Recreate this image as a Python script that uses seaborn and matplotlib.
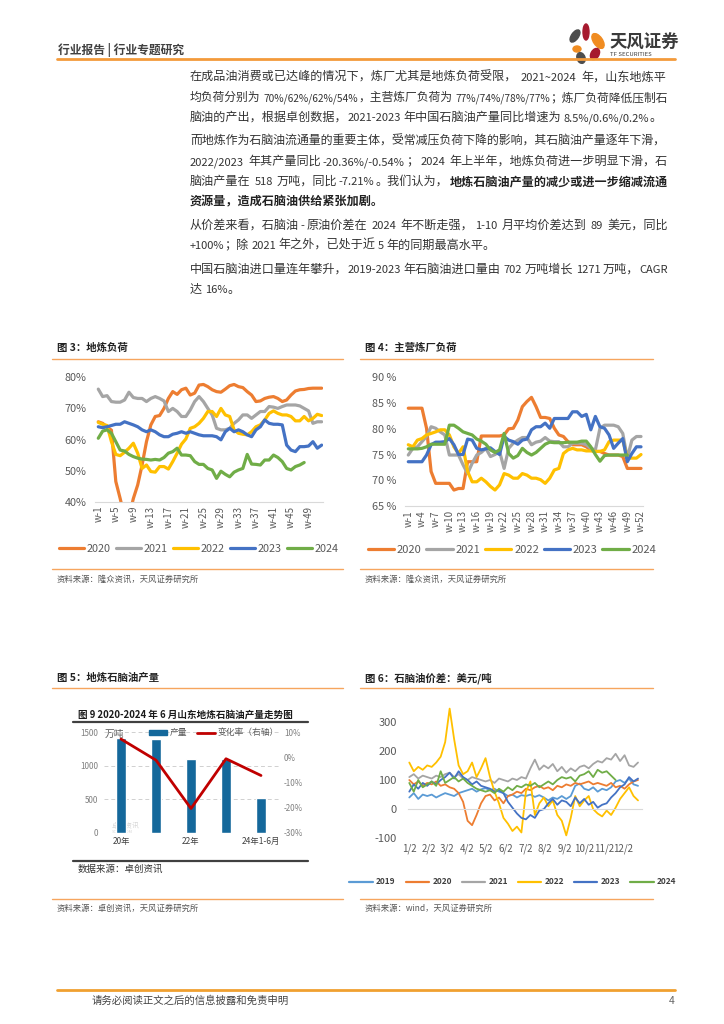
import re
import numpy as np
import pandas as pd
import seaborn as sns
import matplotlib.pyplot as plt
from matplotlib.patches import Ellipse, Patch
from matplotlib.lines import Line2D
from matplotlib.font_manager import FontProperties

sns.set_style("white")
plt.rcParams["font.family"] = ["Noto Sans CJK SC", "DejaVu Sans"]
plt.rcParams["axes.unicode_minus"] = False
plt.rcParams["lines.solid_joinstyle"] = "round"
plt.rcParams["lines.solid_capstyle"] = "round"

# ---------------- data ----------------
years = ["2020", "2021", "2022", "2023", "2024"]

# 图3 地炼负荷 (%)，按周
local_2020 = [65.7, 65.2, 64.0, 63.0, 46.5, 41.0, 35.0, 35.0, 41.0, 45.4,
              51.8, 59.3, 64.7, 67.4, 67.7, 70.0, 73.2, 75.4, 74.5, 76.0,
              76.5, 74.3, 74.9, 77.5, 77.7, 77.0, 76.0, 75.4, 75.2, 76.2,
              77.3, 77.7, 77.0, 76.7, 75.4, 74.3, 72.2, 72.4, 73.2, 73.6,
              73.8, 73.2, 72.2, 72.7, 74.3, 75.6, 76.0, 76.1, 76.4, 76.5,
              76.5, 76.5]
local_2021 = [76.2, 73.8, 74.1, 72.2, 72.0, 72.0, 72.7, 75.2, 73.5, 73.2,
              73.2, 72.2, 73.2, 73.8, 73.2, 72.4, 69.0, 70.0, 69.0, 67.4,
              67.4, 69.5, 72.2, 73.8, 72.2, 70.0, 67.9, 63.6, 63.1, 63.1,
              63.6, 65.2, 66.3, 67.9, 67.9, 66.8, 67.9, 69.0, 69.0, 70.6,
              70.4, 70.0, 70.6, 71.1, 71.1, 71.1, 70.8, 70.0, 69.2, 65.2,
              65.7, 65.7]
local_2022 = [65.5, 64.9, 64.5, 59.3, 55.2, 54.8, 55.9, 57.2, 58.8, 55.6,
              50.7, 51.8, 49.7, 49.5, 51.3, 51.3, 50.5, 52.9, 55.6, 58.5,
              60.2, 63.6, 64.1, 65.2, 66.8, 69.0, 69.0, 67.4, 70.0, 67.9,
              67.4, 63.1, 62.0, 61.7, 61.5, 62.5, 64.1, 64.7, 66.3, 68.4,
              69.2, 68.4, 67.9, 67.9, 67.4, 66.0, 66.0, 67.4, 66.0, 66.8,
              68.1, 67.7]
local_2023 = [64.1, 63.8, 64.1, 64.5, 64.9, 64.9, 65.7, 65.2, 64.7, 64.1,
              63.1, 62.5, 63.1, 62.5, 61.5, 60.9, 60.9, 61.7, 62.0, 62.5,
              62.0, 62.5, 62.0, 61.5, 61.2, 61.2, 61.2, 60.9, 59.9, 62.5,
              63.6, 62.5, 63.1, 62.5, 61.5, 60.9, 63.1, 64.1, 66.3, 65.2,
              64.9, 64.9, 64.7, 58.2, 56.6, 56.1, 57.7, 57.7, 57.9, 59.3,
              57.2, 58.2]
local_2024 = [60.4, 62.7, 63.1, 62.0, 59.3, 56.6, 56.3, 55.2, 54.5, 54.0,
              53.7, 53.6, 53.4, 53.6, 53.4, 54.2, 55.6, 56.1, 57.2, 55.0,
              55.0, 54.8, 52.9, 52.0, 52.0, 50.7, 50.2, 47.5, 49.8, 48.8,
              48.0, 49.5, 50.2, 50.7, 55.2, 52.1, 52.0, 51.8, 53.4, 53.4,
              55.0, 54.2, 52.9, 50.7, 50.2, 51.3, 51.8, 52.6]

# 图4 主营炼厂负荷 (%)，按周
main_2020 = [84, 84, 84, 84, 80.1, 71.7, 69.4, 69.4, 69.4, 69.4,
             68.1, 68.4, 68.4, 73.6, 73.6, 73.6, 78.6, 78.6, 78.6, 78.6,
             78.6, 78.8, 80.0, 80.1, 81.7, 84.3, 85.3, 86.1, 84.3, 82.2,
             82.2, 82.0, 80.1, 78.8, 78.5, 77.5, 76.9, 76.9, 76.9, 76.5,
             75.9, 75.6, 75.6, 75.2, 74.9, 74.9, 74.9, 74.6, 72.3, 72.3,
             72.3, 72.3]
main_2021 = [74.9, 76.2, 76.5, 77.5, 78.5, 80.4, 80.1, 79.4, 78.8, 74.9,
             74.9, 74.9, 73.0, 71.3, 73.3, 74.9, 75.4, 76.2, 74.6, 75.0,
             75.6, 72.3, 76.2, 77.2, 77.8, 78.3, 78.3, 76.9, 77.4, 77.6,
             78.3, 77.6, 77.5, 77.5, 76.5, 76.5, 77.2, 77.2, 77.2, 76.9,
             76.2, 75.9, 80.1, 80.7, 80.7, 80.7, 80.4, 79.1, 74.3, 77.8,
             78.5, 78.5]
main_2022 = [76.9, 76.5, 77.8, 78.1, 78.8, 79.1, 79.4, 79.8, 79.8, 78.8,
             76.5, 75.2, 76.5, 71.7, 69.7, 69.7, 70.4, 69.7, 68.8, 68.1,
             69.1, 71.3, 71.0, 70.4, 70.4, 71.3, 71.0, 70.4, 70.4, 70.1,
             69.4, 70.4, 72.0, 72.3, 75.2, 75.9, 76.2, 75.9, 75.9, 75.7,
             75.7, 75.6, 75.6, 75.9, 77.5, 77.8, 77.8, 77.8, 74.3, 74.3,
             74.3, 75.0]
main_2023 = [73.6, 73.6, 73.6, 73.6, 74.9, 76.9, 77.4, 77.4, 77.5, 78.1,
             76.9, 75.0, 75.0, 78.0, 77.8, 76.2, 75.9, 76.1, 76.3, 75.6,
             75.0, 78.5, 77.8, 77.5, 77.0, 77.8, 78.0, 79.8, 80.4, 80.4,
             81.1, 80.1, 82.0, 82.0, 82.0, 82.0, 83.3, 83.3, 82.4, 82.8,
             79.8, 82.4, 80.4, 80.1, 78.8, 76.2, 77.2, 78.1, 73.6, 75.2,
             76.5, 76.5]
main_2024 = [76.1, 76.1, 76.1, 76.2, 76.5, 77.0, 77.0, 77.0, 77.0, 80.7,
             80.7, 80.1, 79.4, 79.1, 78.8, 78.0, 77.6, 77.0, 75.9, 75.4,
             75.9, 79.1, 75.2, 74.3, 74.8, 76.2, 75.4, 74.9, 75.4, 76.2,
             77.0, 77.4, 77.3, 77.3, 77.3, 77.4, 77.4, 77.4, 77.6, 77.6,
             76.5, 75.0, 73.7, 74.8, 74.9, 74.9, 74.9, 74.9, 74.9]

# 图5 山东地炼石脑油产量
prod_cats = ["20年", "21年", "22年", "23年", "24年1-6月"]
prod_labels = ["20年", "", "22年", "", "24年1-6月"]
prod_vals = [1409, 1394, 1104, 1104, 518]
prod_rate = [7.3, -1.1, -20.36, -0.54, -7.21]

# 图6 石脑油价差 (美元/吨)，每周取值
spread_years = ["2019", "2020", "2021", "2022", "2023", "2024"]
spread_2019 = [40, 55, 35, 50, 45, 50, 40, 48, 55, 50, 45, 55, 60,
               65, 70, 60, 68, 72, 65, 70, 60, 55, 45, 50, 40, 48,
               45, 50, 42, 48, 40, 30, 40, 35, 45, 35, 45, 80, 88,
               70, 65, 75, 60, 70, 65, 75, 95, 100, 90, 105, 85, 80]
spread_2020 = [100, 85, 95, 80, 90, 85, 95, 80, 85, 75, 70, 55, 25,
               -40, -55, -20, 20, 45, 50, 30, 40, 20, 45, 50, 60, 55,
               70, 65, 75, 80, 70, 75, 65, 80, 75, 85, 80, 90, 85,
               90, 95, 85, 90, 85, 80, 90, 75, 80, 70, 85, 95, 100]
spread_2021 = [110, 120, 105, 115, 110, 105, 115, 110, 120, 125, 110, 120, 105,
               100, 110, 105, 100, 95, 100, 90, 105, 100, 95, 105, 100, 110,
               105, 140, 170, 135, 150, 140, 155, 130, 145, 125, 140, 130, 145,
               150, 140, 155, 165, 160, 175, 170, 190, 165, 185, 150, 145, 160]
spread_2022 = [160, 130, 145, 135, 150, 145, 160, 180, 230, 345, 240, 150, 120,
               130, 160, 110, 140, 175, 110, 60, 20, -30, -50, -75, -60, -80,
               60, 95, -20, 20, 40, 10, 30, -20, -40, -90, -30, 45, 10,
               30, 45, 0, -15, -25, -5, -20, 5, 35, 55, 75, 45, 30]
spread_2023 = [60, 85, 70, 90, 80, 95, 85, 100, 110, 125, 105, 130, 110,
               100, 85, 95, 80, 75, 70, 60, 65, 55, 25, 5, -15, -30,
               -35, -20, -30, -5, 0, 20, 35, 15, 30, 25, 10, 40, 20,
               35, 15, 25, 5, 15, 20, 40, 55, 75, 85, 110, 95, 105]
spread_2024 = [90, 60, 100, 75, 85, 95, 80, 130, 90, 100, 110, 95, 105,
               90, 80, 70, 65, 60, 65, 55, 70, 60, 75, 65, 80, 75,
               85, 80, 90, 75, 85, 95, 85, 100, 110, 105, 110, 95, 115,
               120, 130, 110, 135, 125, 130, 115, 100]
month_ticks = [0, 31, 59, 90, 120, 151, 181, 212, 243, 273, 304, 334]
month_labels = ["1/2", "2/2", "3/2", "4/2", "5/2", "6/2",
                "7/2", "8/2", "9/2", "10/2", "11/2", "12/2"]

# 正文（每行：片段列表, 是否两端对齐）
body_lines = [
    (77, [("在成品油消费或已达峰的情况下，炼厂尤其是地炼负荷受限，2021~2024 年，山东地炼平", False)], True),
    (97, [("均负荷分别为 70%/62%/62%/54%，主营炼厂负荷为 77%/74%/78%/77%；炼厂负荷降低压制石", False)], True),
    (117, [("脑油的产出，根据卓创数据，2021-2023 年中国石脑油产量同比增速为 8.5%/0.6%/0.2%。", False)], False),
    (141, [("而地炼作为石脑油流通量的重要主体，受常减压负荷下降的影响，其石脑油产量逐年下滑，", False)], True),
    (161, [("2022/2023 年其产量同比-20.36%/-0.54%；2024 年上半年，地炼负荷进一步明显下滑，石", False)], True),
    (181, [("脑油产量在 518 万吨，同比-7.21%。我们认为，", False),
           ("地炼石脑油产量的减少或进一步缩减流通", True)], True),
    (201, [("资源量，造成石脑油供给紧张加剧。", True)], False),
    (225, [("从价差来看，石脑油-原油价差在 2024 年不断走强，1-10 月平均价差达到 89 美元，同比", False)], True),
    (245, [("+100%；除 2021 年之外，已处于近 5 年的同期最高水平。", False)], False),
    (269, [("中国石脑油进口量连年攀升，2019-2023 年石脑油进口量由 702 万吨增长 1271 万吨，CAGR", False)], True),
    (289, [("达 16%。", False)], False),
]

# ---------------- styling ----------------
c19, c20, c21, c22, c23, c24 = "#5B9BD5", "#ED7D31", "#A5A5A5", "#FFC000", "#4472C4", "#70AD47"
pal5 = dict(zip(years, [c20, c21, c22, c23, c24]))
pal6 = dict(zip(spread_years, [c19, c20, c21, c22, c23, c24]))
orange = "#F39A3B"
thin_orange = "#F6A55E"
tick_c = "#595959"
text_c = "#333333"

W, H = 724, 1024


def box(x0, y0, x1, y1):
    return [x0 / W, 1 - y1 / H, (x1 - x0) / W, (y1 - y0) / H]


def long_frame(series, step=1, start=1):
    parts = []
    for yr, vals in series:
        parts.append(pd.DataFrame({"x": start + step * np.arange(len(vals)),
                                   "v": vals, "year": yr}))
    return pd.concat(parts, ignore_index=True)


def clean(ax):
    for s in ["left", "right", "top"]:
        ax.spines[s].set_visible(False)
    ax.spines["bottom"].set_color("#D9D9D9")
    ax.set_xlabel("")
    ax.set_ylabel("")
    ax.set_facecolor("none")


fig = plt.figure(figsize=(7.24, 10.24), dpi=100)
bg = fig.add_axes([0, 0, 1, 1])
bg.set_xlim(0, W)
bg.set_ylim(H, 0)
bg.axis("off")
renderer = fig.canvas.get_renderer()

CJK = r"\u3000-\u303f\u4e00-\u9fff\uff00-\uffef"
RUN = re.compile(rf"[{CJK}]+|[^{CJK}]+")
FAM = ["Noto Sans CJK SC", "DejaVu Sans"]


def advance(s, fp):
    w1 = renderer.get_text_width_height_descent("H" + s + "H", fp, ismath=False)[0]
    w0 = renderer.get_text_width_height_descent("HH", fp, ismath=False)[0]
    return w1 - w0


def body_line(y, segs, justify, x0=190, x1=668):
    pieces = []
    for txt, bold in segs:
        for r in RUN.findall(txt):
            cjk = re.match(rf"[{CJK}]", r[0]) is not None
            core = r.strip(" ")
            lead = len(r) - len(r.lstrip(" "))
            trail = len(r) - len(r.rstrip(" "))
            if core:
                pieces.append((core, cjk, bold, lead, trail))
    size, lat = 8.7, 8.0
    while True:
        fps, widths, total = [], [], 0.0
        sp = advance(" ", FontProperties(family=FAM, size=lat))
        for core, cjk, bold, lead, trail in pieces:
            fp = FontProperties(family=FAM, size=size if cjk else lat,
                                weight="bold" if bold else "normal")
            w = advance(core, fp)
            fps.append(fp)
            widths.append((w, lead * sp, trail * sp))
            total += w + (lead + trail) * sp
        if total <= x1 - x0 or size <= 7.8:
            break
        if lat > 7.4:
            lat -= 0.1
        else:
            size -= 0.05
    gap = 0.0
    if justify and len(pieces) > 1:
        gap = min(3.0, max(0.0, (x1 - x0 - total) / (len(pieces) - 1)))
    cx = x0
    for (core, cjk, bold, lead, trail), fp, (w, ls, ts) in zip(pieces, fps, widths):
        cx += ls
        bg.text(cx, y + 4, core, fontproperties=fp, va="baseline", ha="left",
                color="#222222" if bold else text_c)
        cx += w + ts + gap


# ---------------- header ----------------
bg.text(58, 50, "行业报告 | 行业专题研究", fontsize=8.5, fontweight="bold",
        color="#404040", va="center")
bg.plot([57, 675], [58.5, 58.5], color=orange, lw=2)
for (cx, cy, w, h, ang, col) in [(575, 36, 7, 14, 35, "#4D4D4D"),
                                 (586, 32, 6, 16, 0, "#A6192E"),
                                 (598, 41, 9, 17, -35, "#F08C21"),
                                 (577, 49, 8, 6, 0, "#F08C21"),
                                 (595, 54, 8, 12, 30, "#A6192E"),
                                 (581, 58, 8, 11, -20, "#4D4D4D")]:
    bg.add_patch(Ellipse((cx, cy), w, h, angle=ang, color=col))
bg.text(609, 43, "天风证券", fontsize=12.5, fontweight="bold", color="#3A3A3A", va="center")
bg.text(610, 55, "TF SECURITIES", fontsize=4.3, color="#3A3A3A", va="center")

# ---------------- body text ----------------
for y, segs, just in body_lines:
    body_line(y, segs, just)

# ---------------- captions / rules ----------------
for x0, x1, title, src in [(52, 343, "图 3：地炼负荷", "资料来源：隆众资讯，天风证券研究所"),
                           (360, 653, "图 4：主营炼厂负荷", "资料来源：隆众资讯，天风证券研究所")]:
    bg.text(x0 + 5, 348, title, fontsize=7.5, fontweight="bold", color="#222222", va="center")
    bg.plot([x0, x1], [358.5, 358.5], color=thin_orange, lw=1)
    bg.plot([x0, x1], [568.5, 568.5], color=thin_orange, lw=1)
    bg.text(x0 + 5, 579, src, fontsize=6, color="#555555", va="center")
for x0, x1, title, src in [(52, 343, "图 5：地炼石脑油产量", "资料来源：卓创资讯，天风证券研究所"),
                           (360, 653, "图 6：石脑油价差：美元/吨", "资料来源：wind，天风证券研究所")]:
    bg.text(x0 + 5, 678, title, fontsize=7.5, fontweight="bold", color="#222222", va="center")
    bg.plot([x0, x1], [688, 688], color=thin_orange, lw=1)
    bg.plot([x0, x1], [898.5, 898.5], color=thin_orange, lw=1)
    bg.text(x0 + 5, 908, src, fontsize=6, color="#555555", va="center")

# ---------------- footer ----------------
bg.plot([57, 675], [990, 990], color="#F0A030", lw=2)
bg.text(92, 1001, "请务必阅读正文之后的信息披露和免责申明", fontsize=7.5, color="#444444", va="center")
bg.text(669, 1001, "4", fontsize=7.5, color="#666666", va="center")

# ---------------- 图3 ----------------
df3 = long_frame(zip(years, [local_2020, local_2021, local_2022, local_2023, local_2024]))
ax3 = fig.add_axes(box(95, 377.3, 323, 501.7))
sns.lineplot(data=df3, x="x", y="v", hue="year", palette=pal5, linewidth=2.3,
             legend=False, errorbar=None, ax=ax3)
ax3.set_xlim(0.25, 52.3)
ax3.set_ylim(40, 80)
ax3.set_yticks([40, 50, 60, 70, 80], [f"{v}%" for v in [40, 50, 60, 70, 80]])
ax3.set_xticks(range(1, 53, 4), [f"w-{w}" for w in range(1, 53, 4)])
ax3.tick_params(axis="x", rotation=90, length=0, pad=3, labelsize=7, labelcolor=tick_c)
ax3.tick_params(axis="y", length=0, pad=6, labelsize=7.8, labelcolor=tick_c)
clean(ax3)
h5 = [Line2D([], [], color=pal5[y], lw=2.3) for y in years]
fig.legend(h5, years, loc="center", bbox_to_anchor=(199 / W, 1 - 549 / H), ncol=5,
           frameon=False, fontsize=7.8, handlelength=2.3, handletextpad=0.25,
           columnspacing=0.5, labelcolor=tick_c)

# ---------------- 图4 ----------------
df4 = long_frame(zip(years, [main_2020, main_2021, main_2022, main_2023, main_2024]))
ax4 = fig.add_axes(box(405, 377.3, 642.7, 506))
sns.lineplot(data=df4, x="x", y="v", hue="year", palette=pal5, linewidth=2.3,
             legend=False, errorbar=None, ax=ax4)
ax4.set_xlim(0.28, 52.37)
ax4.set_ylim(65, 90)
ax4.set_yticks([65, 70, 75, 80, 85, 90], [f"{v} %" for v in [65, 70, 75, 80, 85, 90]])
ax4.set_xticks(range(1, 53, 3), [f"w-{w}" for w in range(1, 53, 3)])
ax4.tick_params(axis="x", rotation=90, length=0, pad=3, labelsize=7, labelcolor=tick_c)
ax4.tick_params(axis="y", length=0, pad=6, labelsize=7.8, labelcolor=tick_c)
clean(ax4)
fig.legend(h5, years, loc="center", bbox_to_anchor=(512 / W, 1 - 550 / H), ncol=5,
           frameon=False, fontsize=8, handlelength=2.4, handletextpad=0.25,
           columnspacing=0.4, labelcolor=tick_c)

# ---------------- 图5 (卓创原图) ----------------
bg.text(78, 714.5, "图 9 2020-2024 年 6 月山东地炼石脑油产量走势图", fontsize=6.9,
        fontweight="bold", color="#1A1A1A", va="center")
bg.plot([73, 308], [721.5, 721.5], color="#404040", lw=1.6)
bg.plot([73, 308], [861, 861], color="#404040", lw=1.6)
bg.text(78, 869, "数据来源：卓创资讯", fontsize=6.8, color="#333333", va="center")
bg.text(105, 734, "万吨", fontsize=7, color=tick_c, va="center")
bg.text(112, 826, "卓创资讯", fontsize=5, color="#D6D6D6", va="center")
bg.text(112, 832, "SCI99.COM", fontsize=3, color="#D6D6D6", va="center")

ax5 = fig.add_axes(box(103.5, 732.3, 278.5, 832.7))
for g in [0, 500, 1000, 1500]:
    ax5.axhline(g, color="#D0D0D0", lw=0.7, ls=(0, (4, 3)), zorder=0)
sns.barplot(x=prod_cats, y=prod_vals, color="#14689B", width=0.3, saturation=1, ax=ax5)
ax5.set_ylim(0, 1500)
ax5.set_xlim(-0.5, 4.5)
ax5.set_yticks([0, 500, 1000, 1500])
ax5.set_xticks(range(5), prod_labels)
ax5.tick_params(axis="both", length=0, labelsize=5.8, labelcolor="#7F7F7F")
ax5.tick_params(axis="y", pad=4)
ax5.tick_params(axis="x", pad=3, labelsize=6, labelcolor="#404040")
for s in ax5.spines.values():
    s.set_visible(False)
ax5.set_facecolor("none")
ax5b = ax5.twinx()
sns.lineplot(x=list(range(5)), y=prod_rate, color="#C00000", linewidth=2, ax=ax5b)
ax5b.set_ylim(-30, 10)
ax5b.set_yticks([-30, -20, -10, 0, 10], ["-30%", "-20%", "-10%", "0%", "10%"])
ax5b.tick_params(axis="y", length=0, pad=4, labelsize=5.8, labelcolor="#7F7F7F")
for s in ax5b.spines.values():
    s.set_visible(False)
fig.legend([Patch(color="#14689B"), Line2D([], [], color="#C00000", lw=2)],
           ["产量", "变化率（右轴）"], loc="center", bbox_to_anchor=(214 / W, 1 - 733 / H),
           ncol=2, frameon=False, fontsize=6.3, handlelength=2.0, handleheight=0.5,
           handletextpad=0.3, columnspacing=1.2, labelcolor="#595959")

# ---------------- 图6 ----------------
df6 = long_frame(zip(spread_years, [spread_2019, spread_2020, spread_2021,
                                    spread_2022, spread_2023, spread_2024]), step=7, start=0)
ax6 = fig.add_axes(box(408, 705, 642, 838.3))
sns.lineplot(data=df6, x="x", y="v", hue="year", palette=pal6, linewidth=1.3,
             legend=False, errorbar=None, ax=ax6)
ax6.set_xlim(-2, 363.2)
ax6.set_ylim(-100, 357.3)
ax6.set_yticks([-100, 0, 100, 200, 300])
ax6.set_xticks(month_ticks, month_labels)
clean(ax6)
ax6.spines["bottom"].set_position(("data", 0))
ax6.tick_params(axis="x", length=4, width=0.8, color="#D9D9D9", direction="out",
                pad=21, labelsize=7.0, labelcolor=tick_c)
ax6.tick_params(axis="y", length=0, pad=8, labelsize=8, labelcolor=tick_c)
h6 = [Line2D([], [], color=pal6[y], lw=1.6) for y in spread_years]
fig.legend(h6, spread_years, loc="center", bbox_to_anchor=(513 / W, 1 - 882 / H), ncol=6,
           frameon=False, handlelength=2.8, handletextpad=0.4, columnspacing=1.2,
           prop={"size": 6, "weight": "bold"}, labelcolor="#404040")

fig.savefig("out.png", dpi=100)
